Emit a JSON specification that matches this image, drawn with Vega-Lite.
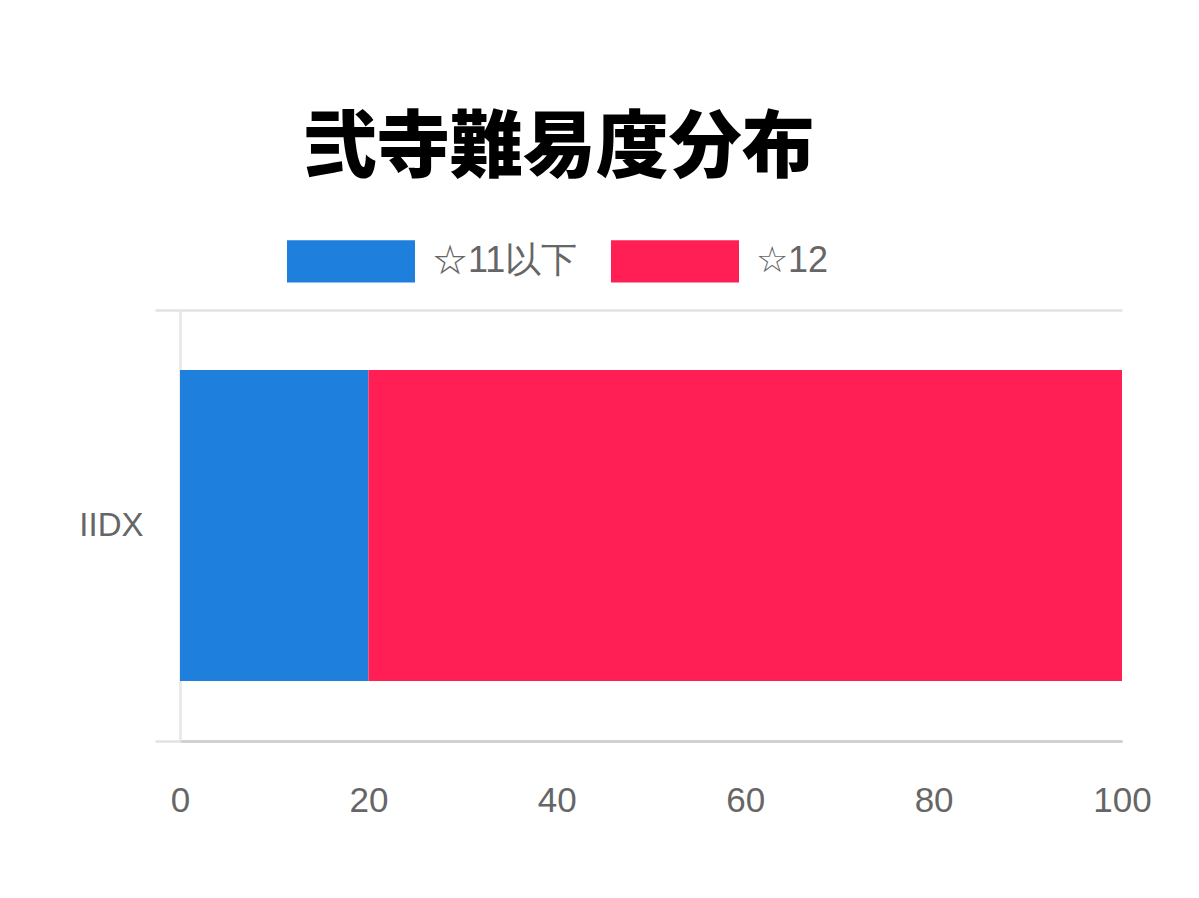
{
  "$schema": "https://vega.github.io/schema/vega-lite/v6.json",
  "autosize": {"type": "none"},
  "padding": {"left": 180, "top": 310, "right": 77, "bottom": 157},
  "width": 942,
  "height": 431,
  "background": "white",
  "title": {
    "text": "弐寺難易度分布",
    "anchor": "start",
    "dx": 225,
    "offset": 11,
    "font": "Noto Sans CJK JP",
    "fontSize": 73,
    "fontWeight": 900,
    "color": "#000000"
  },
  "data": {
    "values": [
      {"game": "IIDX", "level": "☆11以下", "share": 20},
      {"game": "IIDX", "level": "☆12", "share": 80}
    ]
  },
  "mark": {"type": "bar", "height": {"band": 0.722}},
  "encoding": {
    "y": {
      "field": "game",
      "type": "nominal",
      "scale": {"paddingInner": 0, "paddingOuter": 0},
      "axis": {
        "title": null,
        "tickBand": "extent",
        "grid": true,
        "gridColor": "#e2e2e2",
        "gridWidth": 2.5,
        "tickColor": "#e2e2e2",
        "tickWidth": 2.5,
        "tickSize": 25,
        "domainColor": "#e6e6e6",
        "domainWidth": 2.5,
        "labelFont": "Liberation Sans",
        "labelFontSize": 33,
        "labelColor": "#666666",
        "labelPadding": 12
      }
    },
    "x": {
      "field": "share",
      "type": "quantitative",
      "stack": "zero",
      "scale": {"domain": [0, 100], "nice": false},
      "axis": {
        "title": null,
        "values": [0, 20, 40, 60, 80, 100],
        "grid": false,
        "ticks": false,
        "domainColor": "#cccccc",
        "domainWidth": 2.5,
        "labelFont": "Liberation Sans",
        "labelFontSize": 35,
        "labelColor": "#666666",
        "labelPadding": 42,
        "labelFlush": false,
        "labelBound": false,
        "labelOverlap": false
      }
    },
    "color": {
      "field": "level",
      "type": "nominal",
      "scale": {"domain": ["☆11以下", "☆12"], "range": ["#1e7fdc", "#ff1f55"]},
      "legend": {
        "title": null,
        "orient": "none",
        "direction": "horizontal",
        "legendX": 107,
        "legendY": -113,
        "symbolType": "M-1,-0.33H1V0.33H-1Z",
        "symbolSize": 16384,
        "symbolStrokeWidth": 0,
        "symbolOpacity": 1,
        "labelFont": "Liberation Sans",
        "labelFontSize": 36,
        "labelColor": "#666666",
        "labelOffset": 17,
        "columnPadding": 33
      }
    }
  },
  "config": {
    "view": {"stroke": null}
  }
}
